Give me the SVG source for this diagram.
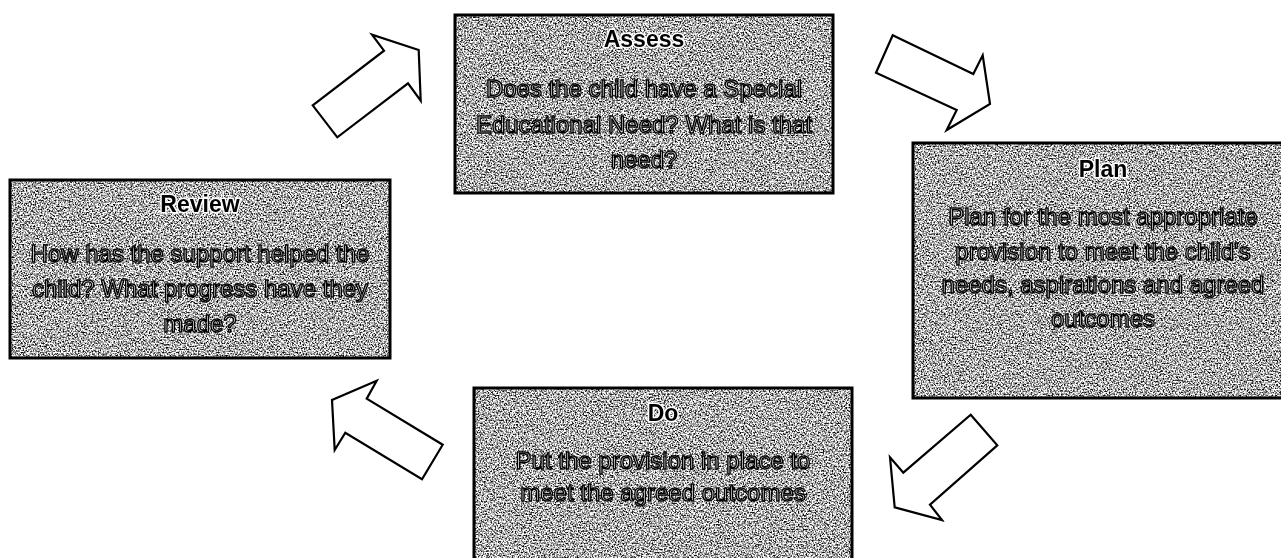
<svg xmlns="http://www.w3.org/2000/svg" width="1281" height="558" viewBox="0 0 1281 558">
<style>
.box{stroke:none}
.frame{fill:none;stroke:#000;stroke-width:3}
.title{font-family:"Liberation Sans",Arial,sans-serif;font-weight:bold;font-size:23px;fill:#000;stroke:#fff;stroke-width:3;paint-order:stroke;text-anchor:middle;opacity:0.99}
.body{font-family:"Liberation Sans",Arial,sans-serif;font-size:24px;fill:#e8e8e8;stroke:#000;stroke-width:1.4;text-anchor:middle;opacity:0.99}
.arrow{fill:#fff;stroke:#000;stroke-width:2.2;stroke-linejoin:miter}
</style>
<defs>
<filter id="grain" x="0" y="0" width="1" height="1" color-interpolation-filters="sRGB">
<feTurbulence type="fractalNoise" baseFrequency="0.65" numOctaves="2" seed="7" result="n"/>
<feColorMatrix in="n" type="matrix" values="2.8 0 0 0 -0.72  2.8 0 0 0 -0.72  2.8 0 0 0 -0.72  0 0 0 0 1" result="g"/>
<feComposite in="g" in2="SourceAlpha" operator="in"/>
</filter>
</defs>
<rect width="1281" height="558" fill="#fff"/>
<g id="connectors">
<polygon class="arrow" points="312.7,105.3 384,50.7 372,34.7 418.7,50 420.7,100.7 408,83.3 337.3,137.3"/>
<polygon class="arrow" points="892.7,35.3 973.3,74 982.7,55.3 990,104 946.7,130 956.7,110 876,72.7"/>
<polygon class="arrow" points="970.7,414.7 997.3,445.3 930,504.7 942,520 894.7,507.3 890,457.3 903.3,472.7"/>
<polygon class="arrow" points="376.7,380.7 366.7,398.7 442.7,444.7 422,479.3 345.3,432.7 334.7,450 332,400"/>
</g>
<g id="assess">
<rect class="box" x="455" y="15" width="378" height="178" fill="#aaa" filter="url(#grain)"/>
<rect class="frame" x="455" y="15" width="378" height="178"/>
<text class="title" x="644" y="47">Assess</text>
<text class="body" x="644" y="97">Does the child have a Special</text>
<text class="body" x="644" y="133">Educational Need? What is that</text>
<text class="body" x="644" y="168">need?</text>
</g>
<g id="plan">
<rect class="box" x="913" y="143" width="370" height="255" fill="#aaa" filter="url(#grain)"/>
<rect class="frame" x="913" y="143" width="370" height="255"/>
<text class="title" x="1103" y="177">Plan</text>
<text class="body" x="1103" y="225">Plan for the most appropriate</text>
<text class="body" x="1103" y="260">provision to meet the child's</text>
<text class="body" x="1103" y="293">needs, aspirations and agreed</text>
<text class="body" x="1103" y="327">outcomes</text>
</g>
<g id="review">
<rect class="box" x="10" y="180" width="380" height="178" fill="#aaa" filter="url(#grain)"/>
<rect class="frame" x="10" y="180" width="380" height="178"/>
<text class="title" x="200" y="212">Review</text>
<text class="body" x="200" y="262">How has the support helped the</text>
<text class="body" x="200" y="297">child? What progress have they</text>
<text class="body" x="200" y="332">made?</text>
</g>
<g id="do">
<rect class="box" x="474" y="388" width="378" height="175" fill="#aaa" filter="url(#grain)"/>
<rect class="frame" x="474" y="388" width="378" height="175"/>
<text class="title" x="663" y="421">Do</text>
<text class="body" x="663" y="469">Put the provision in place to</text>
<text class="body" x="663" y="501">meet the agreed outcomes</text>
</g>
</svg>
